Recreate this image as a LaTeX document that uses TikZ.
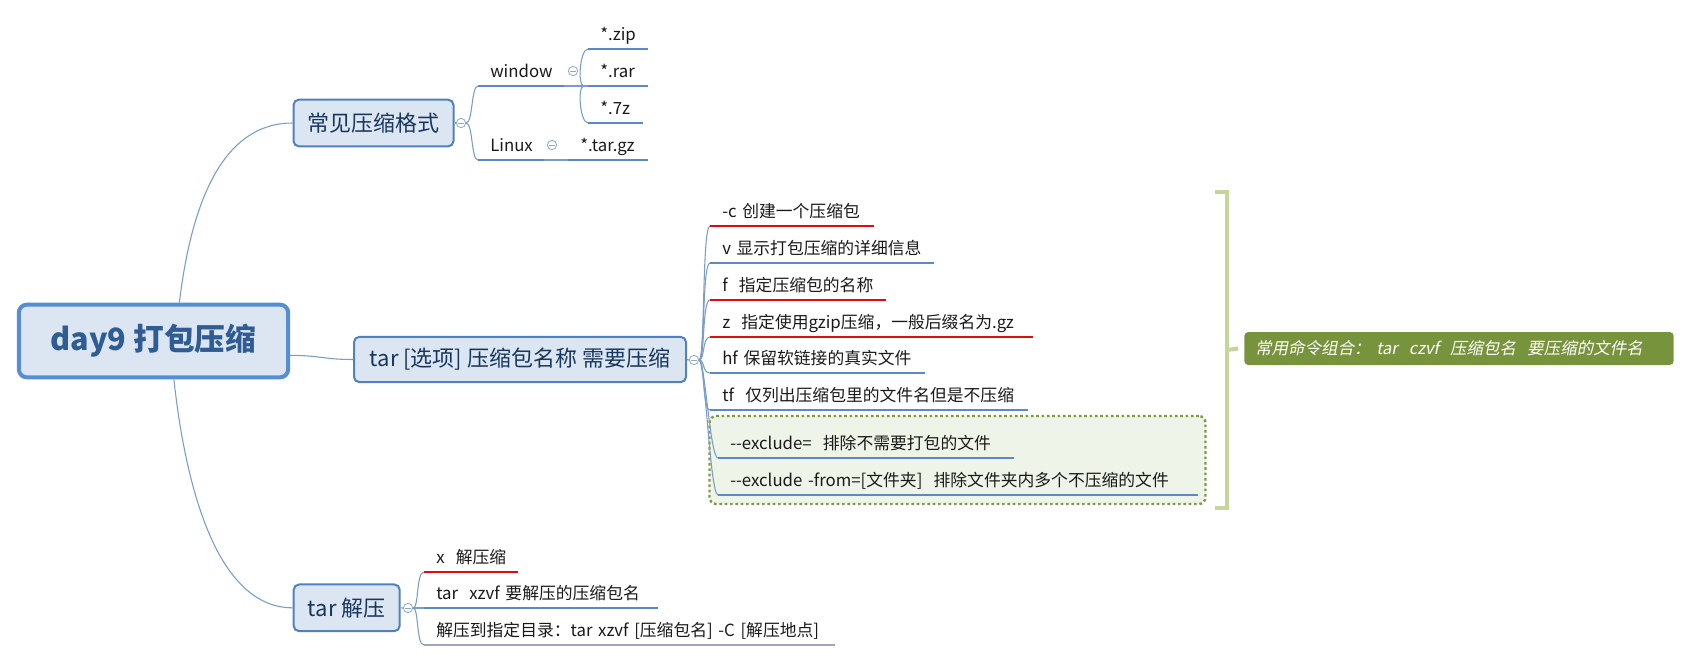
\documentclass[tikz,border=0pt]{standalone}
\usepackage{fontspec}
\setmainfont{Noto Sans CJK SC}
\newfontfamily\tipfont[FakeSlant=0.2]{Noto Sans CJK SC}
\usetikzlibrary{positioning}
\definecolor{boxfill}{HTML}{DCE6F2}
\definecolor{boxline}{HTML}{4F81BD}
\definecolor{rootline}{HTML}{558ED5}
\definecolor{roottext}{HTML}{2F5D93}
\definecolor{boxtext}{HTML}{17375E}
\definecolor{linkblue}{HTML}{7A9CC8}
\definecolor{foldline}{HTML}{8FA8C8}
\definecolor{ulblue}{HTML}{5A8AC6}
\definecolor{ulred}{HTML}{E00B0B}
\definecolor{ulgray}{HTML}{A7A2BF}
\definecolor{grpfill}{HTML}{EFF4E8}
\definecolor{grpline}{HTML}{7F9A47}
\definecolor{brkgreen}{HTML}{C4D79B}
\definecolor{tipfill}{HTML}{77933C}

\begin{document}
\begin{tikzpicture}[x=0.75pt, y=-0.75pt,
  topic/.style={draw=boxline, line width=1.5pt, fill=boxfill, rounded corners=4pt, inner sep=0pt, text=boxtext, font=\fontsize{16.5pt}{19pt}\selectfont},
  item/.style={anchor=south west, inner xsep=9pt, inner ysep=3pt, text height=10pt, text depth=3pt, text width=#1, align=left, text=black!90, font=\fontsize{12.6pt}{15pt}\selectfont,
    execute at begin node={\hbox\bgroup}, execute at end node={\egroup}},
  fold/.style={circle, draw=foldline, fill=white, line width=0.6pt, minimum size=7pt, inner sep=0pt,
    path picture={\draw[foldline, line width=0.6pt] ([xshift=-2pt]path picture bounding box.center) -- ([xshift=2pt]path picture bounding box.center);}},
  link/.style={draw=linkblue, line width=0.8pt},
  ul/.style={draw=#1, line width=2.2pt},
  grp/.style={draw=grpline, fill=grpfill, line width=1.8pt, dash pattern=on 2pt off 2pt, rounded corners=5pt, inner sep=0pt},
  brk/.style={draw=brkgreen, line width=3pt},
  tip/.style={fill=tipfill, rounded corners=3pt, text=white, inner xsep=8pt, text width=306pt, align=left, minimum height=24.75pt, font=\tipfont\fontsize{12.4pt}{15pt}\selectfont}
]
\useasboundingbox (0,0) rectangle (1691,662);

% main topics
\node[topic, draw=rootline, line width=3pt, rounded corners=6pt, minimum width=202pt, minimum height=54.5pt, text=roottext, font=\fontsize{23pt}{27pt}\selectfont\bfseries] (root) at (153.5,341) {day9 打包压缩};
\node[topic, minimum width=120pt, minimum height=35pt] (fmt) at (373.5,123) {常见压缩格式};
\node[topic, minimum width=249pt, minimum height=34pt] (tar) at (520,359.5) {tar [选项] 压缩包名称 需要压缩};
\node[topic, minimum width=79.5pt, minimum height=35pt] (untar) at (346.7,607.8) {tar 解压};

\node[fold] (f1) at (461,123) {};
\node[fold] (f2) at (694,360) {};
\node[fold] (f3) at (408,608) {};
\node[fold] (f4) at (573,71) {};
\node[fold] (f5) at (552,145) {};

% formats
\node[item=45.75pt] (win) at (478,86) {window};
\node[item=30.75pt] (lin) at (478,160) {Linux};
\node[item=26.25pt] (zip) at (588,49) {*.zip};
\node[item=26.25pt] (rar) at (588,86) {*.rar};
\node[item=22.5pt] (sz) at (588,123) {*.7z};
\node[item=41.25pt] (tgz) at (568,160) {*.tar.gz};

% tar options
\node[grp, minimum width=372pt, minimum height=66pt] (grp) at (957.5,460) {};
\node[item=104.25pt] (optc) at (710,226) {-c 创建一个压缩包};
\node[item=149.25pt] (optv) at (710,263) {v 显示打包压缩的详细信息};
\node[item=113.25pt] (optf) at (710,300) {f\ \ 指定压缩包的名称};
\node[item=223.5pt] (optz) at (710,337) {z\ \ 指定使用gzip压缩，一般后缀名为.gz};
\node[item=142.5pt] (opth) at (710,373) {hf 保留软链接的真实文件};
\node[item=219.75pt] (optt) at (710,410) {tf\ \ 仅列出压缩包里的文件名但是不压缩};
\node[item=203.25pt] (exa) at (718,458) {-{}-exclude=\ \ 排除不需要打包的文件};
\node[item=341.25pt] (exb) at (718,495) {-{}-exclude -from=[文件夹]\ \ 排除文件夹内多个不压缩的文件};

% untar
\node[item=51.75pt] (xa) at (424,572) {x\ \ 解压缩};
\node[item=156.75pt] (xb) at (424,608) {tar\ \ xzvf 要解压的压缩包名};
\node[item=289.5pt] (xc) at (424,645) {解压到指定目录：tar xzvf [压缩包名] -C [解压地点]};

% summary
\node[tip] (tip) at (1459,348.5) {常用命令组合：\ tar\ \ czvf\ \ 压缩包名\ \ 要压缩的文件名};
\coordinate (brkmid) at (1227,350);
\draw[brk] (1215,192) -- (1227,192) -- (1227,508) -- (1215,508);
\draw[brk] (brkmid) -- ([xshift=-4.5pt]tip.west);

% links
\draw[link] (root.56) .. controls +(12,-100) and +(-70,0) .. (fmt.west);
\draw[link] (root.-6) .. controls +(30,0) and +(-30,0) .. (tar.west);
\draw[link] (root.-62) .. controls +(12,110) and +(-75,0) .. (untar.west);

\draw[link] (fmt.east) -- (f1.west);
\foreach \n in {win,lin}
  \draw[link] (f1.east) .. controls +(7,0) and +(-7,0) .. (\n.south west);
\draw[link] (win.south east) -- (rar.south west);
\coordinate (wfork) at (584,86);
\foreach \n in {zip,sz}
  \draw[link] (wfork) .. controls +(-7,0) and +(-8,0) .. (\n.south west);
\draw[link] (lin.south east) -- (tgz.south west);

\draw[link] (tar.east) -- (f2.west);
\foreach \n in {optc,optv,optf,optz,opth,optt,exa,exb}
  \draw[link] (f2.east) .. controls +(6,0) and +(-8,0) .. (\n.south west);

\draw[link] (untar.east) -- (f3.west);
\foreach \n in {xa,xb,xc}
  \draw[link] (f3.east) .. controls +(6,0) and +(-8,0) .. (\n.south west);

% underlines
\foreach \n/\c in {win/ulblue,lin/ulblue,zip/ulblue,rar/ulblue,sz/ulblue,tgz/ulblue,
  optc/ulred,optv/ulblue,optf/ulred,optz/ulred,opth/ulblue,optt/ulblue,exa/ulblue,exb/ulblue,
  xa/ulred,xb/ulblue,xc/ulgray}
  \draw[ul=\c] (\n.south west) -- (\n.south east);
\end{tikzpicture}
\end{document}
